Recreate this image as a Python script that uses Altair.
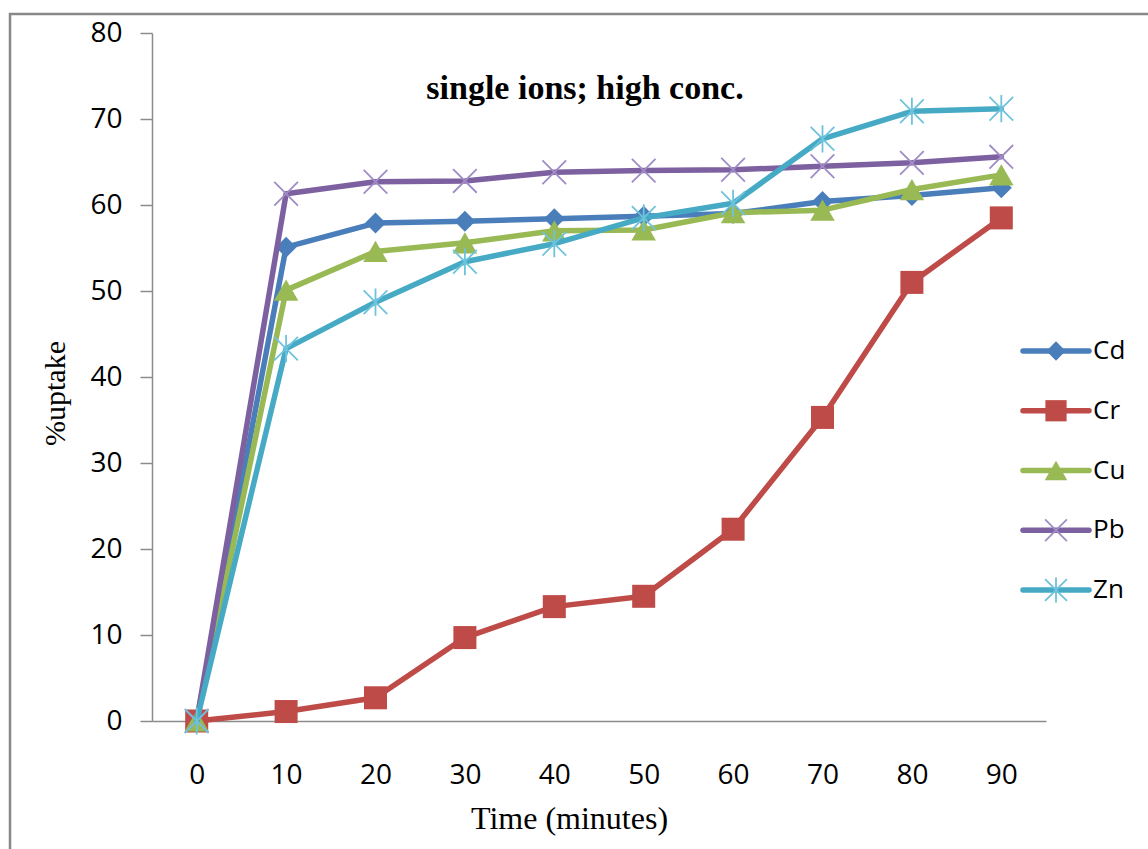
import altair as alt
import pandas as pd

times = [0, 10, 20, 30, 40, 50, 60, 70, 80, 90]
series = ["Cd", "Cr", "Cu", "Pb", "Zn"]
cd = [0, 55.1, 57.9, 58.1, 58.4, 58.7, 59.0, 60.4, 61.1, 62.0]
cr = [0, 1.1, 2.7, 9.7, 13.3, 14.5, 22.3, 35.3, 51.0, 58.5]
cu = [0, 50.1, 54.6, 55.6, 57.0, 57.1, 59.1, 59.4, 61.8, 63.5]
pb = [0, 61.3, 62.7, 62.8, 63.8, 64.0, 64.1, 64.5, 64.9, 65.6]
zn = [0, 43.3, 48.7, 53.4, 55.5, 58.5, 60.2, 67.7, 70.9, 71.2]
values = {"Cd": cd, "Cr": cr, "Cu": cu, "Pb": pb, "Zn": zn}

line_colors = {"Cd": "#4A7EBB", "Cr": "#BE4B48", "Cu": "#98B954", "Pb": "#7D60A0", "Zn": "#46AAC5"}
marker_colors = {"Cd": "#4A7EBB", "Cr": "#BE4B48", "Cu": "#98B954", "Pb": "#A08CC6", "Zn": "#6EC3DC"}
shapes = {
    "Cd": "diamond",
    "Cr": "square",
    "Cu": "triangle-up",
    "Pb": "M-1,-1L1,1M-1,1L1,-1",
    "Zn": "M-1,-1L1,1M-1,1L1,-1M0,-1.15L0,1.15",
}
filled = {"Cd": True, "Cr": True, "Cu": True, "Pb": False, "Zn": False}
sizes = {"Cd": 440, "Cr": 530, "Cu": 600, "Pb": 560, "Zn": 560}

rows = []
for s in series:
    for t, v in zip(times, values[s]):
        rows.append({"series": s, "time": t, "uptake": v})
df = pd.DataFrame(rows)
leg_df = pd.DataFrame({"series": series})

W, H = 894, 688
LEFT, TOP = 152, 33
no_view = alt.ViewBackground(stroke="transparent", strokeWidth=0)

x_enc = alt.X(
    "time:O",
    sort=times,
    scale=alt.Scale(type="point", padding=0.5),
    axis=alt.Axis(
        title="Time (minutes)",
        titleFont="Liberation Serif",
        titleFontSize=32,
        titleFontWeight="normal",
        titleColor="#000",
        titleX=417,
        titleY=107,
        titleAlign="center",
        titleBaseline="alphabetic",
        labelFont="Open Sans",
        labelFontSize=28,
        labelColor="#000",
        labelAngle=0,
        labelPadding=40,
        ticks=False,
        domainColor="#8C8C8C",
        domainWidth=1.5,
        grid=False,
    ),
)
y_enc = alt.Y(
    "uptake:Q",
    scale=alt.Scale(domain=[0, 80], nice=False, zero=True),
    axis=alt.Axis(
        title="%uptake",
        titleFont="Liberation Serif",
        titleFontSize=30,
        titleFontWeight="normal",
        titleColor="#000",
        titleAngle=270,
        titleX=-88,
        titleY=360,
        titleAlign="center",
        titleBaseline="alphabetic",
        values=[0, 10, 20, 30, 40, 50, 60, 70, 80],
        labelFont="Open Sans",
        labelFontSize=28,
        labelColor="#000",
        labelPadding=18,
        tickSize=12,
        tickColor="#8C8C8C",
        tickWidth=1.5,
        domainColor="#8C8C8C",
        domainWidth=1.5,
        grid=False,
    ),
)

base = alt.Chart(df)
main_layers = []
for i, s in enumerate(series):
    sub = base.transform_filter(alt.datum.series == s)
    x = x_enc if i == 0 else alt.X("time:O", sort=times, scale=alt.Scale(type="point", padding=0.5))
    y = y_enc if i == 0 else alt.Y("uptake:Q", scale=alt.Scale(domain=[0, 80], nice=False))
    line = sub.mark_line(
        color=line_colors[s], strokeWidth=5.5, strokeCap="round", strokeJoin="round"
    ).encode(x=x, y=y)
    if filled[s]:
        pts = sub.mark_point(
            shape=shapes[s], size=sizes[s], filled=True, fill=marker_colors[s],
            opacity=1, strokeWidth=0,
        ).encode(x=x, y=y)
    else:
        pts = sub.mark_point(
            shape=shapes[s], size=sizes[s], filled=False, stroke=marker_colors[s],
            opacity=1, strokeWidth=1.8,
        ).encode(x=x, y=y)
    main_layers += [line, pts]
main = alt.layer(*main_layers).properties(view=no_view)

# legend drawn from the series list, positioned by its own point scale
leg_y = alt.Y(
    "series:N",
    sort=series,
    scale=alt.Scale(type="point", domain=series, range=[318, 557], padding=0),
    axis=None,
)
leg_base = alt.Chart(leg_df)
leg_layers = []
for s in series:
    sub = leg_base.transform_filter(alt.datum.series == s)
    leg_layers.append(
        sub.mark_rule(color=line_colors[s], strokeWidth=5.5, strokeCap="round").encode(
            x=alt.value(871), x2=alt.value(937), y=leg_y
        )
    )
    if filled[s]:
        leg_layers.append(
            sub.mark_point(shape=shapes[s], size=sizes[s] * 0.85, filled=True,
                           fill=marker_colors[s], opacity=1, strokeWidth=0).encode(
                x=alt.value(904), y=leg_y)
        )
    else:
        leg_layers.append(
            sub.mark_point(shape=shapes[s], size=sizes[s] * 0.85, filled=False,
                           stroke=marker_colors[s], opacity=1, strokeWidth=1.8).encode(
                x=alt.value(904), y=leg_y)
        )
    leg_layers.append(
        sub.mark_text(align="left", baseline="middle", font="Open Sans",
                      fontSize=26, color="#000", dx=0).encode(
            x=alt.value(941), y=leg_y, text="series:N")
    )
legend = alt.layer(*leg_layers).properties(view=no_view)

border = alt.Chart(pd.DataFrame({"b": [0]})).mark_rect(
    fillOpacity=0, stroke="#888888", strokeWidth=2.5
).encode(
    x=alt.value(10 - LEFT), x2=alt.value(1160 - LEFT),
    y=alt.value(14 - TOP), y2=alt.value(870 - TOP),
)

chart = alt.layer(border, main, legend).resolve_scale(
    y="independent", x="independent"
).properties(
    width=W,
    height=H,
    view=no_view,
    padding={"left": LEFT, "top": TOP, "right": 1148 - LEFT - W, "bottom": 849 - TOP - H},
    autosize=alt.AutoSizeParams(type="none"),
    title=alt.TitleParams(
        "single ions;  high conc.",
        font="Liberation Serif",
        fontSize=34,
        fontWeight="bold",
        color="#000",
        anchor="middle",
        baseline="alphabetic",
        offset=0,
        dx=-14,
        dy=120,
    ),
).configure_view(strokeWidth=0, stroke="transparent").configure(background="white")

chart.save("out.html", embed_options={"renderer": "svg", "actions": False})
